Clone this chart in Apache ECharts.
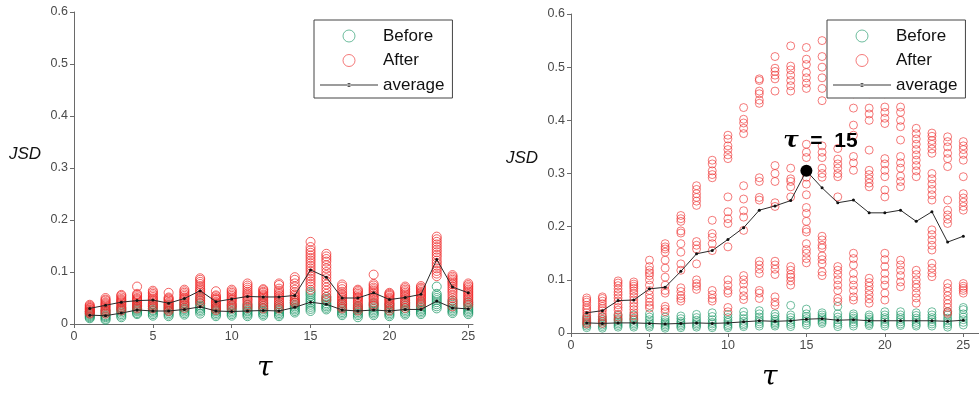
<!DOCTYPE html>
<html>
<head>
<meta charset="utf-8">
<script src="https://cdn.jsdelivr.net/npm/echarts@6/dist/echarts.min.js"></script>
<style>html,body{margin:0;padding:0;background:#fff}#c{width:979px;height:400px}</style>
</head>
<body>
<div id="c"></div>
<script>
const tau = [1,2,3,4,5,6,7,8,9,10,11,12,13,14,15,16,17,18,19,20,21,22,23,24,25];
const xTicks = [0,5,10,15,20,25];
const legendNames = ['Before','After','average'];
const markTau = 15;

// ---- Left panel ----
const afterL = [
 [0.037,0.035,0.033,0.031,0.030,0.028,0.027,0.025,0.024,0.022,0.020],
 [0.050,0.047,0.045,0.042,0.040,0.038,0.036,0.034,0.031,0.029,0.026,0.023,0.020],
 [0.056,0.054,0.051,0.048,0.046,0.044,0.042,0.040,0.037,0.035,0.032,0.029,0.026],
 [0.072,0.058,0.056,0.053,0.050,0.048,0.046,0.044,0.041,0.039,0.036,0.033,0.030],
 [0.064,0.061,0.058,0.055,0.052,0.049,0.047,0.045,0.042,0.039,0.036,0.033,0.030],
 [0.060,0.051,0.049,0.047,0.045,0.042,0.040,0.038,0.036,0.033,0.031,0.028,0.025],
 [0.066,0.063,0.060,0.057,0.054,0.051,0.049,0.047,0.044,0.041,0.038,0.035,0.031],
 [0.088,0.085,0.081,0.077,0.073,0.069,0.066,0.063,0.060,0.056,0.052,0.048,0.044,0.040],
 [0.063,0.055,0.053,0.050,0.048,0.046,0.043,0.041,0.039,0.036,0.033,0.030,0.027],
 [0.066,0.063,0.060,0.057,0.054,0.051,0.048,0.046,0.043,0.040,0.037,0.034,0.030],
 [0.078,0.074,0.070,0.066,0.062,0.059,0.056,0.053,0.050,0.047,0.044,0.040,0.036,0.031],
 [0.067,0.065,0.062,0.060,0.057,0.055,0.053,0.051,0.048,0.045,0.042,0.038,0.034,0.030],
 [0.078,0.075,0.068,0.064,0.060,0.057,0.054,0.051,0.048,0.045,0.042,0.038,0.034,0.030],
 [0.090,0.085,0.078,0.072,0.066,0.061,0.057,0.054,0.051,0.048,0.045,0.042,0.040],
 [0.158,0.148,0.142,0.137,0.132,0.127,0.122,0.117,0.112,0.107,0.102,0.097,0.092,0.087,0.082,0.077,0.072,0.066],
 [0.135,0.130,0.125,0.120,0.113,0.107,0.100,0.094,0.088,0.082,0.076,0.070,0.064,0.058,0.052,0.046],
 [0.076,0.072,0.067,0.062,0.058,0.055,0.052,0.049,0.046,0.043,0.040,0.037,0.033,0.030],
 [0.066,0.064,0.061,0.058,0.055,0.052,0.050,0.047,0.044,0.041,0.038,0.034,0.030,0.026],
 [0.095,0.077,0.074,0.070,0.067,0.064,0.061,0.058,0.055,0.052,0.049,0.046,0.042,0.038,0.035],
 [0.060,0.058,0.056,0.054,0.051,0.049,0.047,0.045,0.042,0.040,0.037,0.034,0.030,0.026],
 [0.072,0.069,0.066,0.063,0.060,0.057,0.054,0.051,0.048,0.045,0.042,0.039,0.035,0.031],
 [0.073,0.070,0.068,0.065,0.062,0.060,0.058,0.055,0.053,0.050,0.047,0.044,0.040,0.036],
 [0.168,0.163,0.158,0.153,0.148,0.143,0.138,0.133,0.128,0.122,0.117,0.112,0.107,0.102,0.097,0.092],
 [0.094,0.091,0.088,0.085,0.082,0.079,0.076,0.072,0.068,0.064,0.060,0.055,0.050,0.045,0.040,0.034],
 [0.078,0.075,0.072,0.069,0.066,0.063,0.060,0.057,0.054,0.051,0.048,0.045,0.041,0.037]
];
const beforeL = [
 [0.024,0.021,0.019,0.017,0.015,0.013,0.011],
 [0.026,0.023,0.020,0.017,0.015,0.013,0.010,0.008],
 [0.031,0.028,0.025,0.022,0.019,0.016,0.013],
 [0.036,0.033,0.030,0.028,0.026,0.024,0.021,0.019],
 [0.038,0.034,0.030,0.027,0.025,0.022,0.019,0.016],
 [0.036,0.032,0.029,0.026,0.024,0.021,0.018,0.015],
 [0.040,0.036,0.032,0.029,0.027,0.024,0.021,0.018],
 [0.050,0.045,0.040,0.036,0.033,0.030,0.027,0.024,0.020],
 [0.036,0.032,0.029,0.026,0.024,0.021,0.018,0.015],
 [0.036,0.032,0.028,0.025,0.022,0.019,0.016],
 [0.037,0.033,0.029,0.026,0.024,0.021,0.018,0.015],
 [0.040,0.035,0.031,0.028,0.025,0.022,0.019,0.016],
 [0.038,0.034,0.030,0.027,0.024,0.021,0.018,0.015],
 [0.045,0.041,0.037,0.034,0.031,0.028,0.025,0.022],
 [0.062,0.058,0.054,0.049,0.045,0.041,0.037,0.033,0.029,0.025],
 [0.052,0.048,0.044,0.040,0.037,0.034,0.031,0.028],
 [0.040,0.036,0.032,0.029,0.026,0.023,0.020,0.017],
 [0.035,0.032,0.029,0.026,0.023,0.020,0.017,0.013],
 [0.040,0.036,0.032,0.029,0.026,0.023,0.020,0.017],
 [0.038,0.034,0.030,0.027,0.024,0.021,0.018,0.015],
 [0.042,0.038,0.034,0.030,0.027,0.024,0.021,0.018],
 [0.042,0.038,0.034,0.031,0.028,0.025,0.022,0.019],
 [0.072,0.058,0.054,0.050,0.046,0.042,0.038,0.034,0.030],
 [0.045,0.041,0.037,0.033,0.030,0.027,0.024,0.021],
 [0.042,0.038,0.034,0.031,0.028,0.025,0.022,0.019]
];
const avgAfterL  = [0.030,0.036,0.042,0.045,0.046,0.040,0.049,0.064,0.043,0.048,0.053,0.052,0.052,0.055,0.104,0.090,0.050,0.050,0.060,0.047,0.051,0.057,0.124,0.071,0.060];
const avgBeforeL = [0.017,0.016,0.021,0.027,0.025,0.025,0.028,0.033,0.025,0.024,0.025,0.026,0.025,0.032,0.042,0.038,0.027,0.025,0.027,0.025,0.028,0.028,0.044,0.031,0.029];

// ---- Right panel ----
const afterR = [
 [0.066,0.062,0.058,0.052,0.047,0.043,0.038,0.033,0.028,0.024,0.020,0.017],
 [0.068,0.065,0.060,0.055,0.050,0.046,0.042,0.036,0.031,0.026,0.022,0.018],
 [0.098,0.094,0.089,0.083,0.077,0.072,0.066,0.060,0.053,0.048,0.043,0.035,0.030,0.025],
 [0.096,0.092,0.088,0.084,0.079,0.074,0.068,0.062,0.056,0.050,0.044,0.038,0.032,0.026],
 [0.137,0.125,0.118,0.113,0.108,0.100,0.090,0.080,0.072,0.065,0.058,0.052,0.047],
 [0.168,0.162,0.158,0.152,0.137,0.122,0.105,0.090,0.080,0.075,0.050,0.045,0.040],
 [0.221,0.215,0.210,0.192,0.188,0.168,0.152,0.130,0.118,0.085,0.078,0.070,0.065,0.060],
 [0.277,0.270,0.262,0.255,0.248,0.240,0.172,0.165,0.158,0.130,0.100,0.093,0.088,0.082],
 [0.325,0.318,0.305,0.298,0.292,0.212,0.187,0.180,0.168,0.155,0.080,0.072,0.065,0.060],
 [0.372,0.365,0.352,0.345,0.335,0.328,0.256,0.228,0.215,0.206,0.162,0.100,0.090,0.080,0.075,0.048,0.040],
 [0.424,0.402,0.395,0.385,0.375,0.277,0.252,0.230,0.218,0.193,0.108,0.100,0.092,0.080,0.070,0.063],
 [0.478,0.475,0.455,0.450,0.438,0.432,0.292,0.285,0.255,0.250,0.135,0.128,0.120,0.112,0.080,0.075,0.065],
 [0.520,0.498,0.492,0.485,0.478,0.455,0.315,0.300,0.285,0.245,0.238,0.135,0.128,0.120,0.110,0.068,0.058,0.052],
 [0.540,0.502,0.495,0.485,0.475,0.465,0.455,0.310,0.290,0.285,0.275,0.256,0.125,0.118,0.110,0.105,0.098,0.090],
 [0.537,0.515,0.505,0.490,0.480,0.470,0.460,0.355,0.340,0.330,0.293,0.280,0.260,0.236,0.225,0.210,0.195,0.190,0.168,0.157,0.150,0.140,0.132],
 [0.550,0.520,0.500,0.480,0.460,0.437,0.352,0.340,0.330,0.310,0.300,0.293,0.182,0.175,0.165,0.160,0.145,0.138,0.130,0.115,0.108],
 [0.560,0.530,0.510,0.490,0.470,0.347,0.327,0.318,0.310,0.300,0.294,0.256,0.125,0.118,0.110,0.100,0.090,0.080,0.065,0.059],
 [0.550,0.520,0.490,0.470,0.450,0.423,0.391,0.372,0.332,0.320,0.306,0.150,0.140,0.128,0.112,0.100,0.090,0.080,0.068,0.062],
 [0.540,0.500,0.470,0.450,0.423,0.412,0.400,0.344,0.306,0.298,0.290,0.282,0.275,0.103,0.095,0.088,0.080,0.072,0.064,0.056],
 [0.530,0.500,0.470,0.450,0.425,0.415,0.404,0.394,0.328,0.318,0.306,0.294,0.269,0.256,0.150,0.138,0.125,0.112,0.100,0.090,0.075,0.062],
 [0.540,0.510,0.480,0.455,0.425,0.415,0.400,0.388,0.363,0.332,0.320,0.310,0.295,0.285,0.275,0.137,0.128,0.118,0.108,0.096,0.087],
 [0.385,0.375,0.365,0.355,0.345,0.335,0.325,0.315,0.305,0.294,0.118,0.110,0.100,0.092,0.085,0.075,0.066,0.056],
 [0.376,0.370,0.362,0.355,0.346,0.338,0.300,0.290,0.280,0.270,0.260,0.250,0.194,0.185,0.175,0.165,0.156,0.131,0.122,0.113,0.106],
 [0.369,0.360,0.350,0.338,0.328,0.313,0.250,0.231,0.222,0.214,0.206,0.093,0.085,0.078,0.070,0.062,0.055,0.048,0.040,0.037],
 [0.360,0.352,0.345,0.336,0.325,0.294,0.262,0.254,0.246,0.238,0.231,0.093,0.088,0.084,0.080,0.075]
];
const beforeR = [
 [0.030,0.026,0.022,0.019,0.016,0.013,0.010],
 [0.030,0.025,0.021,0.018,0.015,0.012,0.009],
 [0.033,0.027,0.023,0.020,0.017,0.014,0.011],
 [0.034,0.028,0.024,0.020,0.017,0.014,0.011],
 [0.036,0.030,0.025,0.020,0.017,0.014,0.011],
 [0.030,0.025,0.021,0.018,0.015,0.012,0.009],
 [0.032,0.027,0.022,0.019,0.016,0.013,0.010],
 [0.035,0.029,0.024,0.020,0.017,0.014,0.011],
 [0.038,0.031,0.025,0.020,0.017,0.013,0.010],
 [0.035,0.029,0.024,0.020,0.016,0.013,0.010],
 [0.040,0.033,0.027,0.022,0.018,0.015,0.012],
 [0.042,0.036,0.030,0.025,0.021,0.017,0.013],
 [0.036,0.031,0.026,0.022,0.019,0.016,0.013],
 [0.052,0.034,0.029,0.024,0.020,0.016,0.012],
 [0.045,0.036,0.031,0.027,0.023,0.019,0.015],
 [0.038,0.034,0.030,0.027,0.024,0.021,0.018],
 [0.050,0.036,0.030,0.025,0.020,0.016,0.012],
 [0.036,0.032,0.028,0.025,0.021,0.017,0.013],
 [0.034,0.030,0.026,0.023,0.020,0.017,0.014],
 [0.040,0.034,0.029,0.025,0.021,0.017,0.013],
 [0.040,0.034,0.029,0.025,0.021,0.017,0.014],
 [0.038,0.033,0.028,0.024,0.020,0.016,0.013],
 [0.040,0.034,0.029,0.025,0.021,0.017,0.013],
 [0.040,0.034,0.028,0.023,0.019,0.015,0.011],
 [0.048,0.044,0.036,0.030,0.025,0.020,0.015]
];
const avgAfterR  = [0.038,0.042,0.061,0.062,0.083,0.086,0.116,0.149,0.155,0.176,0.198,0.231,0.239,0.249,0.305,0.273,0.245,0.250,0.226,0.226,0.231,0.210,0.228,0.171,0.182];
const avgBeforeR = [0.019,0.018,0.019,0.019,0.018,0.017,0.018,0.019,0.018,0.019,0.021,0.023,0.022,0.023,0.026,0.027,0.024,0.025,0.023,0.023,0.023,0.023,0.023,0.022,0.024];

const GREEN = 'rgba(22,148,98,0.62)';
const RED = 'rgba(238,40,40,0.62)';
const GREEN_L = 'rgba(22,148,98,0.72)';
const RED_L = 'rgba(238,40,40,0.72)';
const AXIS = '#6a6a6a';
// legend glyph for "average": thin line with a small dot in the middle
const AVG_ICON = 'path://M0,1.5 L58,1.5 L58,2.5 L0,2.5 Z M27,2 a2,2 0 1,0 4,0 a2,2 0 1,0 -4,0 Z';

function pts(cols){ const out=[]; cols.forEach((c,i)=>c.forEach(v=>out.push([tau[i],v]))); return out; }
function line(vals){ return vals.map((v,i)=>[tau[i],v]); }

function xAx(grid,max){
  return {type:'value', gridIndex:grid, min:0, max:max,
    axisLine:{show:true, lineStyle:{color:AXIS,width:1}},
    axisTick:{show:true, inside:false, length:4, customValues:xTicks, lineStyle:{color:AXIS}},
    axisLabel:{customValues:xTicks, color:'#4a4a4a', fontSize:12.5, fontFamily:'Liberation Sans', margin:6},
    splitLine:{show:false}};
}
function yAx(grid){
  return {type:'value', gridIndex:grid, min:0, max:0.6, interval:0.1,
    axisLine:{show:true, lineStyle:{color:AXIS,width:1}},
    axisTick:{show:true, inside:false, length:4, lineStyle:{color:AXIS}},
    axisLabel:{color:'#4a4a4a', fontSize:12.5, fontFamily:'Liberation Sans', margin:6,
      formatter:v=> v===0 ? '0' : v.toFixed(1)},
    splitLine:{show:false}};
}
function scat(name,data,g,color,size){
  return {type:'scatter', name:name, xAxisIndex:g, yAxisIndex:g, data:data, symbol:'circle', symbolSize:size,
    itemStyle:{color:'rgba(255,255,255,0)', borderColor:color, borderWidth:1, opacity:1}, silent:true, z:2};
}
function avg(data,g){
  return {type:'line', name:'average', xAxisIndex:g, yAxisIndex:g, data:data, symbol:'circle', symbolSize:3,
    showSymbol:true, lineStyle:{color:'#2a2a2a', width:1}, itemStyle:{color:'#111'}, silent:true, z:3, animation:false};
}
function legend(left){
  return {show:true, orient:'vertical', left:left, top:20, itemWidth:58, itemHeight:12, itemGap:4.5,
    padding:[6,8,3,6], borderColor:'#444', borderWidth:1, backgroundColor:'#fff', z:10,
    selectedMode:false,
    textStyle:{fontSize:17, fontFamily:'Liberation Sans', color:'#111', lineHeight:20},
    data:[
      {name:legendNames[0], icon:'circle', itemStyle:{color:'#fff', borderColor:GREEN, borderWidth:1}},
      {name:legendNames[1], icon:'circle', itemStyle:{color:'#fff', borderColor:RED, borderWidth:1}},
      {name:legendNames[2], icon:AVG_ICON, itemStyle:{color:'#3a3a3a', borderWidth:0}}
    ]};
}

const chart = echarts.init(document.getElementById('c'), null, {renderer:'canvas'});
chart.setOption({
  animation:false,
  backgroundColor:'#fff',
  grid:[
    {left:74, top:12, width:399, height:312},
    {left:571, top:14, width:418.6, height:319}
  ],
  xAxis:[xAx(0,25.3), xAx(1,26)],
  yAxis:[yAx(0), yAx(1)],
  legend:[legend(314), legend(827)],
  series:[
    scat(legendNames[0], pts(beforeL), 0, GREEN_L, 9),
    scat(legendNames[1], pts(afterL), 0, RED_L, 9),
    avg(line(avgBeforeL), 0),
    avg(line(avgAfterL), 0),
    scat(legendNames[0], pts(beforeR), 1, GREEN, 8),
    scat(legendNames[1], pts(afterR), 1, RED, 8),
    avg(line(avgBeforeR), 1),
    avg(line(avgAfterR), 1),
    {type:'scatter', name:'mark', xAxisIndex:1, yAxisIndex:1, z:5, silent:true,
      data:[[markTau, avgAfterR[markTau-1]]], symbol:'circle', symbolSize:12, itemStyle:{color:'#000', opacity:1},
      label:{show:true, position:'top', distance:12, offset:[14,0], color:'#000', opacity:1,
        formatter:p=>'{t|τ}{s|  =  '+p.value[0]+'}',
        rich:{t:{fontFamily:'DejaVu Serif', fontStyle:'italic', fontWeight:'bold', fontSize:23, color:'#000'},
              s:{fontFamily:'Liberation Sans', fontWeight:'bold', fontSize:21, color:'#000'}}}}
  ],
  graphic:[
    {type:'text', left:9, top:146, style:{text:'JSD', font:'italic 17px "Liberation Sans"', fill:'#111'}},
    {type:'text', left:506, top:150, style:{text:'JSD', font:'italic 17px "Liberation Sans"', fill:'#111'}},
    {type:'text', left:257, top:355, style:{text:'τ', font:'italic 28px "DejaVu Serif"', fill:'#000'}},
    {type:'text', left:762, top:364, style:{text:'τ', font:'italic 28px "DejaVu Serif"', fill:'#000'}}
  ]
});
</script>
</body>
</html>
